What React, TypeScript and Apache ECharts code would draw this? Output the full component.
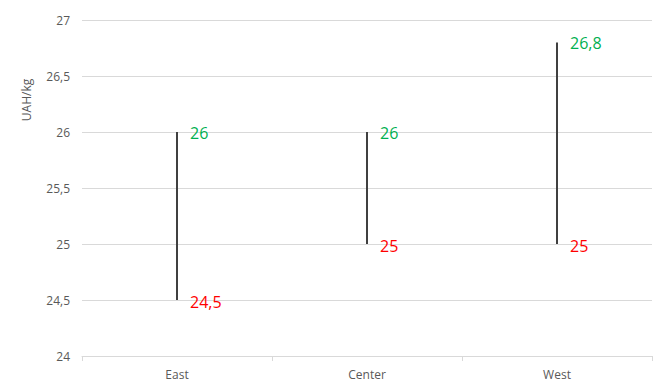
import React, { useEffect, useRef } from "react";
import * as echarts from "echarts";

const categories = ["East", "Center", "West"];
const lowValues = [24.5, 25, 25];
const highValues = [26, 26, 26.8];
const yMin = 24;
const yMax = 27;
const yInterval = 0.5;
const yAxisTitle = "UAH/kg";

const fmt = (v: number) => String(v).replace(".", ",");

export default function App() {
  const ref = useRef<HTMLDivElement>(null);
  useEffect(() => {
    if (!ref.current) return;
    const chart = echarts.init(ref.current, undefined, { renderer: "svg" });
    const font = "'Open Sans', 'Noto Sans', sans-serif";
    const data = categories.map((_, i) => [i, lowValues[i], highValues[i]]);
    chart.setOption({
      animation: false,
      textStyle: { fontFamily: font },
      grid: { left: 82, right: 12, top: 20, bottom: 32 },
      xAxis: {
        type: "category",
        data: categories,
        boundaryGap: true,
        axisLine: { lineStyle: { color: "#d9d9d9" } },
        axisTick: { show: true, length: 5, lineStyle: { color: "#d9d9d9" } },
        axisLabel: { color: "#595959", fontSize: 12, margin: 12, fontFamily: font },
      },
      yAxis: {
        type: "value",
        min: yMin,
        max: yMax,
        interval: yInterval,
        axisLine: { show: false },
        axisTick: { show: false },
        splitLine: { lineStyle: { color: "#d9d9d9" } },
        axisLabel: {
          color: "#595959",
          fontSize: 12,
          margin: 12,
          fontFamily: font,
          formatter: (v: number) => fmt(v),
        },
      },
      graphic: [
        {
          type: "text",
          x: 26,
          y: 100,
          rotation: Math.PI / 2,
          style: {
            text: yAxisTitle,
            fill: "#595959",
            fontSize: 12,
            fontFamily: font,
            textAlign: "center",
            textVerticalAlign: "middle",
          },
        },
      ],
      series: [
        {
          type: "custom",
          data,
          encode: { x: 0, y: [1, 2] },
          renderItem: (params: any, api: any) => {
            const idx = api.value(0);
            const lo = api.coord([idx, api.value(1)]);
            const hi = api.coord([idx, api.value(2)]);
            return {
              type: "group",
              children: [
                {
                  type: "line",
                  shape: { x1: lo[0], y1: lo[1], x2: hi[0], y2: hi[1] },
                  style: { stroke: "#404040", lineWidth: 2 },
                },
                {
                  type: "text",
                  x: hi[0] + 13,
                  y: hi[1] + 1,
                  style: {
                    text: fmt(api.value(2)),
                    fill: "#00b050",
                    fontSize: 16,
                    fontFamily: font,
                    textAlign: "left",
                    textVerticalAlign: "middle",
                  },
                },
                {
                  type: "text",
                  x: lo[0] + 13,
                  y: lo[1] + 2,
                  style: {
                    text: fmt(api.value(1)),
                    fill: "#ff0000",
                    fontSize: 16,
                    fontFamily: font,
                    textAlign: "left",
                    textVerticalAlign: "middle",
                  },
                },
              ],
            };
          },
        },
      ],
    });
    return () => chart.dispose();
  }, []);
  return <div ref={ref} style={{ width: 664, height: 388, position: "absolute", left: 0, top: 0 }} />;
}
